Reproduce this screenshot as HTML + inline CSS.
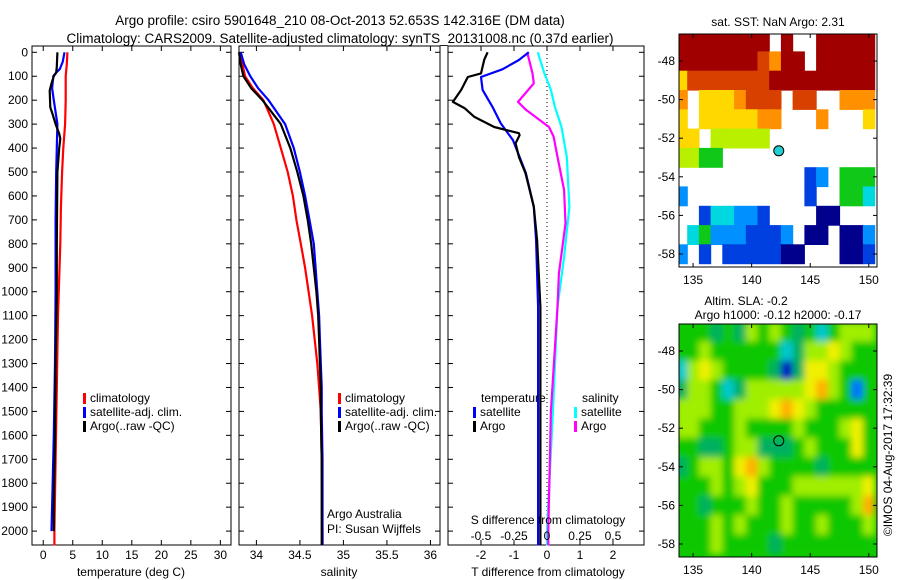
<!DOCTYPE html>
<html><head><meta charset="utf-8">
<style>
html,body{margin:0;padding:0;background:#fff;}
svg{display:block;font-family:"Liberation Sans",Arial,sans-serif;}
text{font-size:12px;fill:#000;}
</style></head>
<body>
<svg id="fig" width="900" height="580" viewBox="0 0 900 580" xmlns="http://www.w3.org/2000/svg">
<text x="340" y="25" text-anchor="middle" style="font-size:13.5px">Argo profile: csiro 5901648_210 08-Oct-2013 52.653S 142.316E (DM data)</text>
<text x="340" y="43" text-anchor="middle" style="font-size:13.5px">Climatology: CARS2009. Satellite-adjusted climatology: synTS_20131008.nc (0.37d earlier)</text>
<g id="plots"></g>
</svg>
<script>
// ---------- data ----------
const depthTicks=[0,100,200,300,400,500,600,700,800,900,1000,1100,1200,1300,1400,1500,1600,1700,1800,1900,2000];
const tempTicks=[0,5,10,15,20,25,30];
const salTicks=[34,34.5,35,35.5,36];
const salTickLabels=["34","34.5","35","35.5","36"];
const tdTicks=[-2,-1,0,1,2];
const sdTicks=[-0.5,-0.25,0,0.25,0.5];
const sdTickLabels=["-0.5","-0.25","0","0.25","0.5"];

const tClimDepth=[0,50,100,200,300,400,500,650,800,1100,1400,1700,2000,2060];
const tClim=[4.1,4.0,3.8,3.8,3.7,3.4,3.2,3.0,2.9,2.5,2.3,2.1,1.9,1.9];
const tSatDepth=[0,40,70,85,100,150,200,250,300,400,500,700,1000,1300,1600,1900,2000];
const tSat=[3.6,3.3,2.8,2.2,1.7,1.5,1.8,2.1,2.4,2.3,2.2,2.1,2.1,2.0,1.8,1.5,1.4];
const tArgoDepth=[0,60,85,100,130,160,230,260,300,340,360,400,500,800,1000,1300,1600,1900,2000];
const tArgo=[2.4,2.3,2.2,1.8,1.4,1.1,1.2,1.6,2.1,2.7,2.9,2.7,2.4,2.3,2.3,2.1,2.0,1.8,1.8];

const sDepth=[0,50,100,150,200,300,400,500,600,700,800,900,1000,1100,1200,1300,1400,1500,1700,2000,2060];
const sClim=[33.82,33.84,33.87,33.96,34.08,34.20,34.28,34.36,34.42,34.46,34.51,34.56,34.60,34.64,34.67,34.70,34.72,34.74,34.75,34.76,34.76];
const sSat=[33.82,33.86,33.93,34.02,34.14,34.33,34.43,34.50,34.56,34.61,34.66,34.68,34.70,34.72,34.73,34.74,34.75,34.75,34.76,34.76,34.76];
const sArgo=[33.80,33.82,33.85,33.94,34.07,34.28,34.39,34.47,34.54,34.59,34.63,34.66,34.69,34.71,34.72,34.73,34.74,34.74,34.75,34.75,34.75];

const tdArgoDepth=[0,30,88,103,157,207,233,270,312,338,346,380,437,505,645,785,1063,1500,2000,2060];
const tdArgo=[-1.8,-1.9,-2.0,-2.4,-2.6,-2.85,-2.5,-2.2,-1.6,-0.85,-0.83,-0.95,-0.85,-0.65,-0.4,-0.3,-0.2,-0.2,-0.2,-0.2];
const tdSatDepth=[0,32,71,103,157,228,297,367,505,645,785,1063,1500,2000,2060];
const tdSat=[-0.55,-0.85,-1.35,-2.0,-1.95,-1.65,-1.4,-1.03,-0.64,-0.4,-0.33,-0.27,-0.27,-0.27,-0.27];
const sdArgoDepth=[0,88,130,207,240,312,352,437,575,715,924,1063,1500,2000,2060];
const sdArgo=[-0.15,-0.11,-0.10,-0.22,-0.16,0.015,0.05,0.08,0.13,0.14,0.09,0.08,0.03,0.01,0.01];
const sdSatDepth=[0,88,157,228,312,437,645,855,1063,1500,2000,2060];
const sdSat=[-0.07,-0.02,0.03,0.06,0.11,0.15,0.17,0.13,0.08,0.045,0.0,0.0];

// maps: rows lat -47..-58, cols lon 134..150 ; '.' = no data
const mapLats=[-47,-48,-49,-50,-51,-52,-53,-54,-55,-56,-57,-58];
const mapLons=[134,135,136,137,138,139,140,141,142,143,144,145,146,147,148,149,150];
const sstRows=[
"99999999.9..99999",
"99999998799.99999",
"68888888999999999",
"7.6667888.88..777",
"6.6666677...7...6",
"66.55555.........",
"5544.............",
"...........12.444",
"2..........1..443",
"..133221....00...",
".342221112.00.002",
"2.1.1111100...001"
];
const slaRows=[
"44434354543424555",
"44544444423556544",
"25654444303665444",
"35542355555675414",
"55544555676544444",
"55444544445444564",
"44334553334544464",
"34554675444434444",
"44454564445555556",
"44344454454444457",
"44454544454454445",
"44454444344444444"
];
const argoLon=142.316, argoLat=-52.653;

// ---------- drawing ----------
const NS="http://www.w3.org/2000/svg";
const root=document.getElementById('plots');
function el(tag,attrs,parent){const e=document.createElementNS(NS,tag);for(const k in attrs)e.setAttribute(k,attrs[k]);(parent||root).appendChild(e);return e;}
function txt(x,y,s,anchor,parent,size){const t=el('text',{x:x,y:y,'text-anchor':anchor||'start'},parent);if(size)t.style.fontSize=size+'px';t.textContent=s;return t;}

const yTop=52.3, pxPer100=23.94, yB=545;
const yD=d=>yTop+d*pxPer100/100;

function panel(name,x0,x1,xmin,xmax){
  const g=el('g',{});
  
  
  const r=el('rect',{x:x0,y:46,width:x1-x0,height:yB-46,fill:'#fff',stroke:'#000','stroke-width':1},g);
  
  
  const xs=v=>x0+(v-xmin)/(xmax-xmin)*(x1-x0);
  return {g,xs,x0,x1};
}
function yAxis(p,labels){
  depthTicks.forEach(d=>{
    const y=yD(d);
    el('line',{x1:p.x0,x2:p.x0+5,y1:y,y2:y,stroke:'#000'},p.g);
    el('line',{x1:p.x1-5,x2:p.x1,y1:y,y2:y,stroke:'#000'},p.g);
    if(labels){const t=txt(p.x0-4,y+4,String(d),'end',p.g);
      
      }
  });
}
function xAxis(p,ticks,labels,labelY){
  ticks.forEach((v,i)=>{
    const x=p.xs(v);
    el('line',{x1:x,x2:x,y1:yB,y2:yB-5,stroke:'#000'},p.g);
    el('line',{x1:x,x2:x,y1:46,y2:51,stroke:'#000'},p.g);
    if(labels){const t=txt(x,labelY,labels[i],'middle',p.g);
      
      }
  });
}
function profile(p,vals,depths,color,name,width){
  const pts=vals.map((v,i)=>p.xs(v).toFixed(1)+','+yD(depths[i]).toFixed(1)).join(' ');
  const l=el('polyline',{points:pts,fill:'none',stroke:color,'stroke-width':width||2.2,'stroke-linejoin':'round'},p.g);
  
  
}
function legend(p,x,y,color,label){
  el('rect',{x:x,y:y-9,width:3,height:11,fill:color},p.g);
  const t=txt(x+7,y,label,'start',p.g);
  
  
}

// panel 1 temperature
const p1=panel('temperature-panel',32,231,-1.9,31.8);
yAxis(p1,true); xAxis(p1,tempTicks,tempTicks.map(String),559);
profile(p1,tClim,tClimDepth,'#ff0000','temp-climatology-line');
profile(p1,tSat,tSatDepth,'#0000ff','temp-satellite-line');
profile(p1,tArgo,tArgoDepth,'#000000','temp-argo-line');
legend(p1,83,402,'#f00','climatology');legend(p1,83,416,'#00f','satellite-adj. clim.');legend(p1,83,430,'#000','Argo(..raw -QC)');
let t=txt(131,576,'temperature (deg C)','middle');



// panel 2 salinity
const p2=panel('salinity-panel',239,440,33.8,36.11);
yAxis(p2,false); xAxis(p2,salTicks,salTickLabels,559);
profile(p2,sClim,sDepth,'#ff0000','sal-climatology-line');
profile(p2,sSat,sDepth,'#0000ff','sal-satellite-line');
profile(p2,sArgo,sDepth,'#000000','sal-argo-line');
legend(p2,338,402,'#f00','climatology');legend(p2,338,416,'#00f','satellite-adj. clim.');legend(p2,338,430,'#000','Argo(..raw -QC)');
t=txt(327,518,'Argo Australia','start',p2.g);


t=txt(327,533,'PI: Susan Wijffels','start',p2.g);


t=txt(339,576,'salinity','middle');



// panel 3 differences
const p3=panel('difference-panel',448,644,-3.0,2.94);
const ps={xs:v=>p3.xs(v*4),g:p3.g,x0:p3.x0,x1:p3.x1};
yAxis(p3,false); xAxis(p3,tdTicks,tdTicks.map(String),559);
el('line',{x1:p3.xs(0),x2:p3.xs(0),y1:46,y2:yB,stroke:'#000','stroke-dasharray':'1,3'},p3.g);
profile(ps,sdSat,sdSatDepth,'#00ffff','sdiff-satellite-line');
profile(ps,sdArgo,sdArgoDepth,'#ff00ff','sdiff-argo-line');
profile(p3,tdSat,tdSatDepth,'#0000ff','tdiff-satellite-line');
profile(p3,tdArgo,tdArgoDepth,'#000000','tdiff-argo-line');
t=txt(481,402,'temperature','start',p3.g);
t=txt(582,402,'salinity','start',p3.g);
legend(p3,473,416,'#00f','satellite');legend(p3,473,430,'#000','Argo');
legend(p3,574,416,'#0ff','satellite');legend(p3,574,430,'#f0f','Argo');
t=txt(548,524,'S difference from climatology','middle',p3.g);
sdTicks.forEach((v,i)=>{const tt=txt(ps.xs(v),540,sdTickLabels[i],'middle',p3.g);
  
  });
t=txt(548,576,'T difference from climatology','middle');



// ---------- maps ----------
const lonMin=133.8, lonMax=150.7, mx0=679, mx1=877;
const sstPal={'0':'#00008c','1':'#0040e0','2':'#0090ff','3':'#00d8e0','4':'#10c818','5':'#b8f000','6':'#ffd800','7':'#ff9000','8':'#d84000','9':'#a00000'};
const slaPal={'0':'#0000c0','1':'#0070ff','2':'#00c8d0','3':'#00b060','4':'#10c800','5':'#a0ee00','6':'#f0f000','7':'#ffb000'};
function drawMap(name,y0,y1,rows,pal,markerFill,blur){
  const g=el('g',{});
  
  
  const lx=lon=>mx0+(lon-lonMin)/(lonMax-lonMin)*(mx1-mx0);
  const ref=y0+27; // y of -48
  const ly=lat=>ref+(-48-lat)*19.3;
  const cid=name+'-clip';
  const cp=el('clipPath',{id:cid},g);el('rect',{x:mx0,y:y0,width:mx1-mx0,height:y1-y0},cp);
  if(blur){const f=el('filter',{id:name+'-blur',x:'-0.1',y:'-0.1',width:'1.2',height:'1.2'},g);el('feGaussianBlur',{stdDeviation:3.5},f);}
  const cells=el('g',{'clip-path':'url(#'+cid+')'},g);
  if(blur) el('rect',{x:mx0,y:y0,width:mx1-mx0,height:y1-y0,fill:pal['4']},cells);
  const inner=el('g',blur?{filter:'url(#'+name+'-blur)'}:{},cells);
  const w=lx(1)-lx(0), h=19.3;
  rows.forEach((row,ri)=>{
    mapLons.forEach((lon,ci)=>{
      const c=row[ci];
      if(!c||!(c in pal))return;
      const r=el('rect',{x:lx(lon-0.5).toFixed(1),y:ly(mapLats[ri]+0.5).toFixed(1),width:(w+0.6).toFixed(1),height:h+0.6,fill:pal[c]},inner);
      
      
    });
  });
  el('rect',{x:mx0,y:y0,width:mx1-mx0,height:y1-y0,fill:'none',stroke:'#000'},g);
  [135,140,145,150].forEach(lon=>{const x=lx(lon);
    el('line',{x1:x,x2:x,y1:y1,y2:y1-4,stroke:'#000'},g);el('line',{x1:x,x2:x,y1:y0,y2:y0+4,stroke:'#000'},g);
    const tt=txt(x,y1+17,String(lon),'middle',g);
    
    });
  [-48,-50,-52,-54,-56,-58].forEach(lat=>{const y=ly(lat);
    el('line',{x1:mx0,x2:mx0+4,y1:y,y2:y,stroke:'#000'},g);el('line',{x1:mx1,x2:mx1-4,y1:y,y2:y,stroke:'#000'},g);
    const tt=txt(mx0-4,y+4,String(lat),'end',g);
    
    });
  const m=el('circle',{cx:lx(argoLon),cy:ly(argoLat),r:5,fill:markerFill,stroke:'#000','stroke-width':1},g);
  
  
}
drawMap('sst-map',34,267,sstRows,sstPal,'#20d0d0',false);
drawMap('sla-map',324,557,slaRows,slaPal,'none',true);
t=txt(778,26,'sat. SST: NaN Argo: 2.31','middle');
t=txt(746,305,'Altim. SLA: -0.2','middle');
t=txt(778,319,'Argo h1000: -0.12 h2000: -0.17','middle');
t=txt(0,0,'©IMOS 04-Aug-2017 17:32:39','middle');
t.setAttribute('transform','translate(892,455) rotate(-90)');


</script>
</body></html>
